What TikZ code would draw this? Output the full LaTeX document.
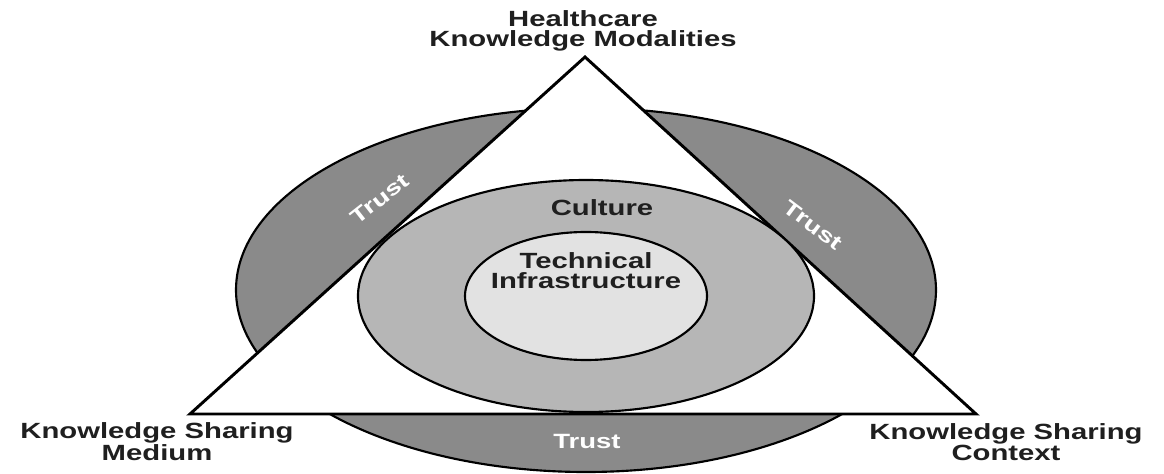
\documentclass[tikz,border=0pt]{standalone}
\usepackage{fontspec}
\newfontfamily\labelfont[FakeStretch=1.33]{Liberation Sans}
\usetikzlibrary{shapes.geometric}
\definecolor{trustgray}{RGB}{138,138,138}
\definecolor{culturegray}{RGB}{182,182,182}
\definecolor{techgray}{RGB}{226,226,226}
\begin{document}
\begin{tikzpicture}[x=0.75pt,y=-0.75pt,
  outline/.style={draw=black,line width=1.6pt},
  edge/.style={draw=black,line width=2.2pt,line join=miter},
  lab/.style={font=\labelfont\bfseries\fontsize{16.5}{15}\selectfont,align=center,text=black!88,inner sep=0pt},
  trustlab/.style={font=\labelfont\bfseries\fontsize{15.5}{15.5}\selectfont,text=white,inner sep=0pt}]
\useasboundingbox (0,0) rectangle (1164,474);
\fill[white] (0,0) rectangle (1164,474);

% outer trust band behind the triangle
\filldraw[outline,fill=trustgray] (586,290) ellipse [x radius=350, y radius=182];

% the triangle, with its corners
\coordinate (apex) at (585,57);
\coordinate (left) at (190,414);
\coordinate (right) at (976,414);
\filldraw[edge,fill=white] (apex) -- (left) -- (right) -- cycle;

% culture and technical infrastructure rings
\filldraw[outline,fill=culturegray] (586,296) ellipse [x radius=228, y radius=116];
\filldraw[outline,fill=techgray] (586,296) ellipse [x radius=121, y radius=64];

% texts inside
\node[lab] (culture) at (602,208) {Culture};
\node[lab] (tech) at (586,271) {Technical\\Infrastructure};
\node[trustlab,rotate=38] (trustL) at (380,199) {Trust};
\node[trustlab,rotate=-37] (trustR) at (813,225) {Trust};
\node[trustlab] (trustB) at (587,441) {Trust};

% corner labels
\node[lab] (top) at (583,31) {Healthcare\\Knowledge Modalities};
\node[lab] (medium) at (157,442) {Knowledge Sharing\\Medium};
\node[lab] (context) at (1006,442) {Knowledge Sharing\\Context};
\end{tikzpicture}
\end{document}
